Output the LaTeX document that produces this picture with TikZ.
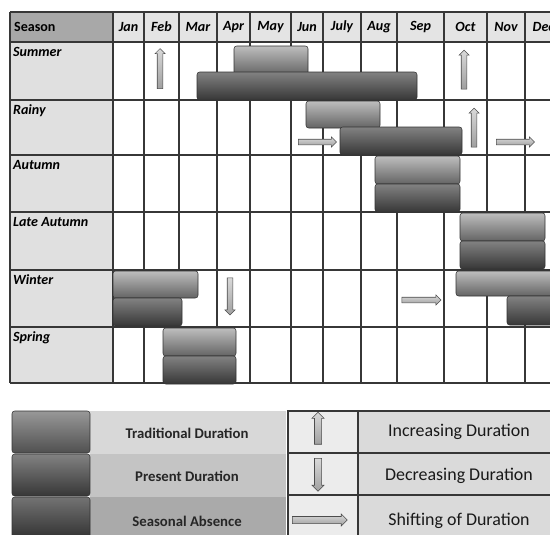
\documentclass[tikz,border=0pt]{standalone}
\usepackage{fontspec}
\setmainfont{Carlito}
\usetikzlibrary{shapes.arrows,positioning,calc}
\definecolor{gridgray}{RGB}{55,55,55}
\definecolor{headfill}{RGB}{228,228,228}
\definecolor{seasonhead}{RGB}{168,168,168}
\definecolor{seasonfill}{RGB}{224,224,224}
\definecolor{tradtop}{RGB}{190,190,190}
\definecolor{tradbot}{RGB}{100,100,100}
\definecolor{prestop}{RGB}{130,130,130}
\definecolor{presbot}{RGB}{55,55,55}
\definecolor{abstop}{RGB}{115,115,115}
\definecolor{absbot}{RGB}{48,48,48}
\definecolor{tradlab}{RGB}{216,216,216}
\definecolor{preslab}{RGB}{196,196,196}
\definecolor{abslab}{RGB}{170,170,170}
\definecolor{iconfill}{RGB}{236,236,236}
\definecolor{labfill}{RGB}{218,218,218}
\tikzset{
  % Linien der Tabelle
  gridline/.style={draw=gridgray, line width=0.6pt},
  % Kopfzeile
  headtext/.style={font=\fontsize{8}{9}\selectfont\bfseries, text=black, inner sep=1pt},
  monthtext/.style={headtext, font=\fontsize{8}{9}\selectfont\bfseries\itshape},
  seasontext/.style={monthtext, anchor=north west},
  % Balken
  bar/.style={rounded corners=1.5pt, draw=gray!40!black, line width=0.3pt},
  trad/.style={bar, top color=tradtop, bottom color=tradbot},
  pres/.style={bar, top color=prestop, bottom color=presbot},
  absent/.style={bar, top color=abstop, bottom color=absbot},
  % Blockpfeile
  blockarr/.style={single arrow, draw=gray!60!black, line width=0.3pt,
    top color=gray!30, bottom color=gray!75,
    inner xsep=0pt, inner ysep=0.05cm, single arrow head extend=0.045cm,
    single arrow head indent=0pt},
  uparr/.style={blockarr, rotate=90},
  downarr/.style={blockarr, rotate=-90},
  rightarr/.style={blockarr},
  keyarr/.style={inner ysep=0.065cm, single arrow head extend=0.05cm},
  % Legende
  legtext/.style={font=\fontsize{8.4}{10}\selectfont\bfseries, text=black!85},
  keytext/.style={font=\fontsize{10.2}{12}\selectfont, text=black!90},
}
\begin{document}
\begin{tikzpicture}[x=0.02cm, y=-0.02cm]
    \useasboundingbox (0,0) rectangle (550,534);

    % Hintergrund der Tabelle
    \fill[headfill] (113,12) rectangle (560,42);
    \fill[seasonhead] (10,12) rectangle (113,42);
    \fill[seasonfill] (10,42) rectangle (113,383);
    \node[headtext, anchor=west] (season) at (12,27) {Season};
    \foreach \m/\xa/\xb in {Jan/113/144, Feb/144/179, Mar/179/217, Apr/217/250,
        May/250/291, Jun/291/323, July/323/361, Aug/361/397, Sep/397/444,
        Oct/444/487, Nov/487/525, Dec/525/562}
        \node[monthtext] (m-\m) at ({(\xa+\xb)/2},27) {\m};
    \foreach \s/\ya/\n in {Summer/42/sum, Rainy/100/rai, Autumn/155/aut,
        Late Autumn/212/lat, Winter/270/win, Spring/327/spr}
        \node[seasontext] (s-\n) at (11,\ya+3) {\s};

    % Gitter
    \foreach \y in {12,42,100,155,212,270,327,383}
        \draw[gridline] (10,\y) -- (560,\y);
    \foreach \x in {10,113,144,179,217,250,291,323,361,397,444,487,525}
        \draw[gridline] (\x,12) -- (\x,383);

    % Summer
    \shade[trad] (234,46) rectangle (308,75);
    \shade[pres] (197,72) rectangle (417,100);
    % Rainy
    \shade[trad] (306,101) rectangle (380,128);
    \shade[pres] (340,127) rectangle (462,155);
    % Autumn
    \shade[trad] (375,156) rectangle (460,184);
    \shade[pres] (375,184) rectangle (460,212);
    % Late Autumn
    \shade[trad] (460,213) rectangle (545,241);
    \shade[pres] (460,241) rectangle (545,269);
    % Winter
    \shade[trad] (113,271) rectangle (198,298);
    \shade[pres] (113,298) rectangle (182,326);
    \shade[trad] (456,271) rectangle (562,296);
    \shade[pres] (507,296) rectangle (562,325);
    % Spring
    \shade[trad] (163,328) rectangle (236,356);
    \shade[pres] (163,356) rectangle (236,384);

    % Pfeile
    \node[uparr, minimum height=0.8cm] (inc-feb) at (160,70) {};
    \node[uparr, minimum height=0.78cm] (inc-oct) at (464,71) {};
    \node[uparr, minimum height=0.78cm] (inc-rai) at (474,129) {};
    \node[rightarr, minimum height=0.76cm] (sh-jun) at (316,142) {};
    \node[rightarr, minimum height=0.76cm] (sh-nov) at (514,142) {};
    \node[downarr, minimum height=0.74cm] (dec-apr) at (230,295) {};
    \node[rightarr, minimum height=0.78cm] (sh-sep) at (420,300) {};

    % Legende links
    \fill[tradlab] (90,411) rectangle (286,454);
    \fill[preslab] (90,454) rectangle (286,497);
    \fill[abslab] (90,497) rectangle (286,540);
    \shade[pres, top color=tradtop!80!black, bottom color=tradbot!80!black] (12,411) rectangle (90,453);
    \shade[pres] (12,454) rectangle (90,496);
    \shade[absent] (12,497) rectangle (90,540);
    \node[legtext] (l-trad) at (187,433) {Traditional Duration};
    \node[legtext] (l-pres) at (187,476) {Present Duration};
    \node[legtext] (l-abs) at (187,521) {Seasonal Absence};

    % Legende rechts
    \fill[iconfill] (288,411) rectangle (358,540);
    \fill[labfill] (358,411) rectangle (560,540);
    \draw[gridline] (288,540) -- (288,411) -- (560,411);
    \draw[gridline] (358,411) -- (358,540);
    \draw[gridline] (288,453) -- (560,453);
    \draw[gridline] (288,495) -- (560,495);
    \node[uparr, keyarr, minimum height=0.64cm] (k-inc) at (318,430) {};
    \node[downarr, keyarr, minimum height=0.66cm] (k-dec) at (318,473) {};
    \node[rightarr, keyarr, minimum height=1.1cm] (k-sh) at (318,520) {};
    \node[keytext] (t-inc) at (459,432) {Increasing Duration};
    \node[keytext] (t-dec) at (459,476) {Decreasing Duration};
    \node[keytext] (t-sh) at (459,521) {Shifting of Duration};
\end{tikzpicture}
\end{document}
